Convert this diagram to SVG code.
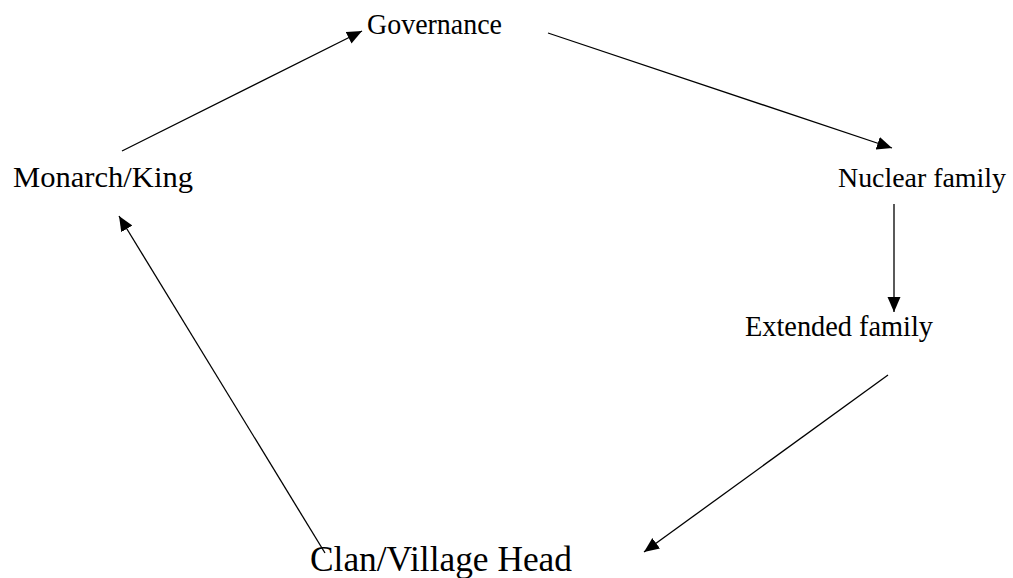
<svg xmlns="http://www.w3.org/2000/svg" width="1013" height="578" viewBox="0 0 1013 578">
<style>
text{font-family:"Liberation Serif","Times New Roman",serif;fill:#000}
.t{font-size:30px}
.n{font-size:28px}
.big{font-size:36px}
.c line{stroke:#000;stroke-width:1.3;fill:none}
</style>
<defs>
<marker id="ah" markerUnits="userSpaceOnUse" markerWidth="16" markerHeight="14" refX="15" refY="6.5" orient="auto">
<path d="M0,0 L15,6.5 L0,13 Z" fill="#000"/>
</marker>
</defs>
<rect width="1013" height="578" fill="#fff"/>
<g class="c" id="connectors">
<line x1="122" y1="151" x2="362" y2="31" marker-end="url(#ah)"/>
<line x1="548" y1="33" x2="892" y2="148" marker-end="url(#ah)"/>
<line x1="894" y1="204" x2="894" y2="312" marker-end="url(#ah)"/>
<line x1="888" y1="375" x2="644" y2="552" marker-end="url(#ah)"/>
<line x1="325" y1="553" x2="119" y2="216" marker-end="url(#ah)"/>
</g>
<g id="governance"><text class="t" x="367" y="34" textLength="135" lengthAdjust="spacingAndGlyphs">Governance</text></g>
<g id="monarch"><text class="t" x="13" y="187" textLength="180" lengthAdjust="spacingAndGlyphs">Monarch/King</text></g>
<g id="nuclear"><text class="n" x="838" y="187" textLength="168" lengthAdjust="spacingAndGlyphs">Nuclear family</text></g>
<g id="extended"><text class="t" x="745" y="336" textLength="188" lengthAdjust="spacingAndGlyphs">Extended family</text></g>
<g id="clan"><text class="big" x="310" y="571" textLength="262" lengthAdjust="spacingAndGlyphs">Clan/Village Head</text></g>
</svg>
